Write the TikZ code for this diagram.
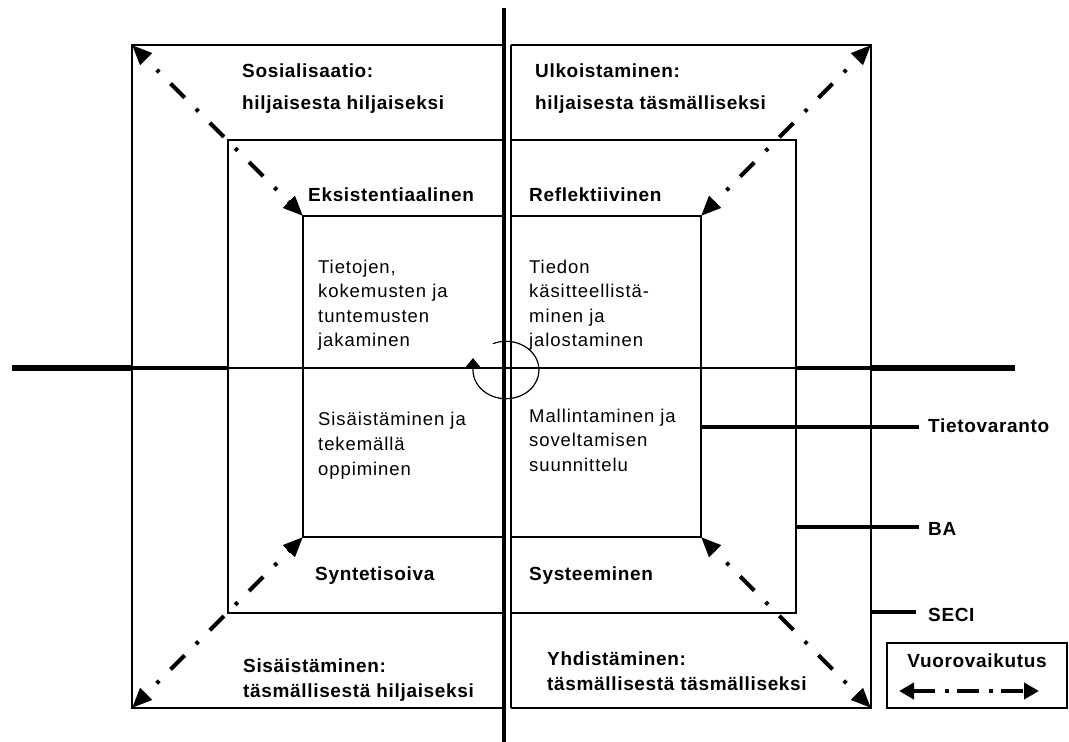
\documentclass[tikz,border=0pt]{standalone}
\usepackage{fontspec}
\setmainfont{Liberation Sans}
\newfontfamily\regf{Liberation Sans}[LetterSpace=5]
\newfontfamily\boldf{Liberation Sans}[LetterSpace=3.5]
\usetikzlibrary{arrows.meta}
\begin{document}
\begin{tikzpicture}[x=1pt,y=-1pt,
  box/.style={line width=1.5pt},
  thinax/.style={line width=1.5pt},
  medax/.style={line width=4pt},
  thickax/.style={line width=6pt},
  legline/.style={line width=4pt},
  lbl/.style={anchor=base west, inner sep=0pt, font=\boldf\bfseries\fontsize{19}{23}\selectfont},
  txt/.style={anchor=base west, inner sep=0pt, font=\regf\fontsize{18.5}{23}\selectfont},
  ddarrow/.style={line width=4pt, dash pattern=on 3.5pt off 16pt on 20pt off 16pt, dash phase=39.5pt,
    {Triangle[length=20pt,width=16pt]}-{Triangle[length=20pt,width=16pt]}},
  legarrow/.style={line width=4pt, dash pattern=on 22pt off 10pt on 3.5pt off 8.5pt,
    {Triangle[length=15pt,width=16pt]}-{Triangle[length=15pt,width=16pt]}}]
\useasboundingbox[fill=white] (0,0) rectangle (1069,742);

% corner coordinates
\coordinate (oTL) at (132,45);  \coordinate (oTR) at (871,45);
\coordinate (oBL) at (132,708); \coordinate (oBR) at (871,708);
\coordinate (iTL) at (303,216); \coordinate (iTR) at (701,216);
\coordinate (iBL) at (303,537); \coordinate (iBR) at (701,537);

% left halves
\draw[box] (504,45) -| (oBL) -- (504,708);
\draw[box] (504,140) -| (228,613) -- (504,613);
\draw[box] (504,216) -| (iBL) -- (504,537);
% right halves
\draw[box] (511,45) -| (oBR) -- (511,708);
\draw[box] (511,140) -| (796,613) -- (511,613);
\draw[box] (511,216) -| (iBR) -- (511,537);
\draw[box] (511,45) -- (511,708);

% horizontal axis
\draw[thinax] (228,368) -- (796,368);
\draw[medax] (133,368) -- (228,368);
\draw[medax] (796,368) -- (871,368);
\draw[thickax] (12,368) -- (133,368);
\draw[thickax] (871,368) -- (1015,368);
% vertical axis
\draw[line width=4.5pt] (504,8) -- (504,742);

% centre rotation
\coordinate (rotS) at (493.1,343.6);
\coordinate (rotE) at (473,358);
\draw[line width=1.2pt, -{Triangle[length=10pt,width=16pt]}] (rotS)
  arc[start angle=113, end angle=-180, x radius=33pt, y radius=28.7pt] -- (rotE);

% bold labels
\node[lbl] (sos1) at (242,77) {Sosialisaatio:};
\node[lbl] (sos2) at (242,109) {hiljaisesta hiljaiseksi};
\node[lbl] (ulk1) at (535,77) {Ulkoistaminen:};
\node[lbl] (ulk2) at (535,109) {hiljaisesta täsmälliseksi};
\node[lbl] (eks) at (308,201) {Eksistentiaalinen};
\node[lbl] (ref) at (529,201) {Reflektiivinen};
\node[lbl] (syn) at (315,580) {Syntetisoiva};
\node[lbl] (sys) at (529,580) {Systeeminen};
\node[lbl] (sis1) at (243,672) {Sisäistäminen:};
\node[lbl] (sis2) at (243,697) {täsmällisestä hiljaiseksi};
\node[lbl] (yhd1) at (547,665) {Yhdistäminen:};
\node[lbl] (yhd2) at (547,690) {täsmällisestä täsmälliseksi};

% regular texts
\node[txt] (a1) at (318,273) {Tietojen,};
\node[txt] (a2) at (318,297) {kokemusten ja};
\node[txt] (a3) at (318,322) {tuntemusten};
\node[txt] (a4) at (318,346) {jakaminen};
\node[txt] (b1) at (529,273) {Tiedon};
\node[txt] (b2) at (529,297) {käsitteellistä-};
\node[txt] (b3) at (529,322) {minen ja};
\node[txt] (b4) at (529,346) {jalostaminen};
\node[txt] (c1) at (318,425) {Sisäistäminen ja};
\node[txt] (c2) at (318,450) {tekemällä};
\node[txt] (c3) at (318,475) {oppiminen};
\node[txt] (d1) at (529,422) {Mallintaminen ja};
\node[txt] (d2) at (529,446) {soveltamisen};
\node[txt] (d3) at (529,471) {suunnittelu};

% side legend
\node[lbl] (tv) at (928,432) {Tietovaranto};
\node[lbl] (ba) at (928,535) {BA};
\node[lbl] (seci) at (928,621) {SECI};
\coordinate (tvA) at (701,427);
\coordinate (baA) at (796,527);
\coordinate (seA) at (871,612);
\draw[legline] (tvA) -- (919,427);
\draw[legline] (baA) -- (919,527);
\draw[legline] (seA) -- (916,612);

% diagonal interaction arrows
\draw[ddarrow] (oTL) -- (iTL);
\draw[ddarrow] (oTR) -- (iTR);
\draw[ddarrow] (oBL) -- (iBL);
\draw[ddarrow] (oBR) -- (iBR);

% legend box
\draw[box] (887,643) rectangle (1067,708);
\node[lbl, anchor=base] (vuo) at (977,667) {Vuorovaikutus};
\coordinate (vA) at (899,691);
\coordinate (vB) at (1039,691);
\draw[legarrow] (vA) -- (vB);
\end{tikzpicture}
\end{document}
